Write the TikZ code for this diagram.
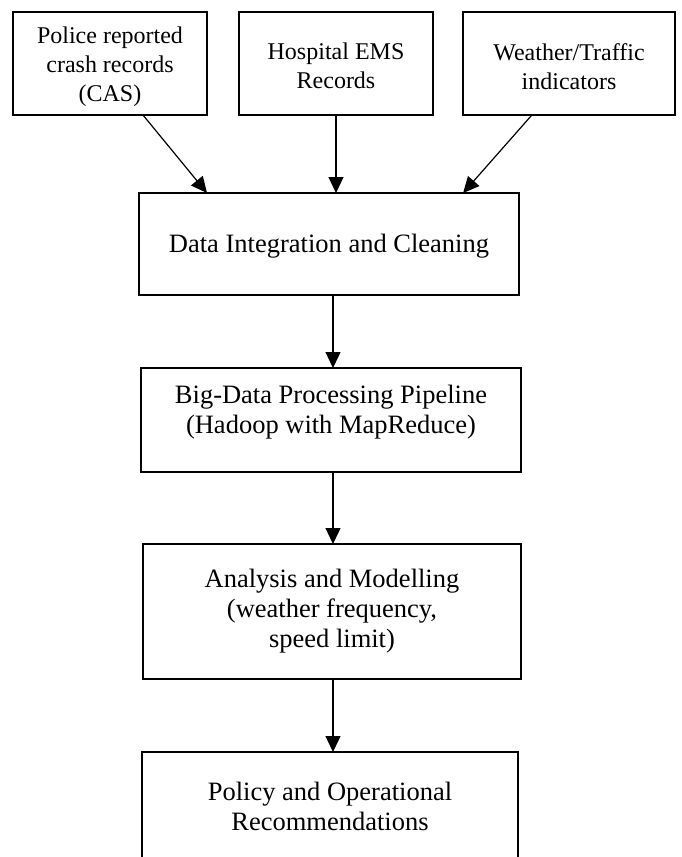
\documentclass[tikz,border=0pt]{standalone}
\usepackage{fontspec}
\setmainfont{Liberation Serif}
\usetikzlibrary{arrows.meta,calc}
\tikzset{
  box/.style={draw, line width=2.5pt, inner sep=0pt, outer sep=0pt, minimum width=#1},
  smalltxt/.style={align=center, inner sep=0pt, font=\fontsize{24}{29}\selectfont},
  bigtxt/.style={align=center, inner sep=0pt, font=\fontsize{26.5}{30}\selectfont},
  arr/.style={line width=1.2pt, -{Triangle[length=16pt,width=15pt]}}
}
\begin{document}
\begin{tikzpicture}[x=1pt,y=-1pt]
\useasboundingbox (0,0) rectangle (682,857);
\clip (0,0) rectangle (682,857);
\fill[white] (0,0) rectangle (682,857);
% top boxes
\node[box=194pt, minimum height=103pt] (p1) at (110,63.5) {};
\node[smalltxt] at (110,67) {Police reported\\crash records\\(CAS)};
\node[box=194pt, minimum height=103pt] (p2) at (336,63.5) {};
\node[smalltxt] at (336,66) {Hospital EMS\\Records};
\node[box=212pt, minimum height=103pt] (p3) at (569,63.5) {};
\node[smalltxt] at (569,66.5) {Weather/Traffic\\indicators};
% main chain
\node[box=380pt, minimum height=102pt] (data) at (329,244) {};
\node[bigtxt] at (329,246) {Data Integration and Cleaning};
\node[box=380pt, minimum height=104pt] (big) at (331,420) {};
\node[bigtxt] at (331,412) {Big-Data Processing Pipeline\\(Hadoop with MapReduce)};
\node[box=378pt, minimum height=135pt] (ana) at (332,611.5) {};
\node[bigtxt] at (332,611) {Analysis and Modelling\\(weather frequency,\\speed limit)};
\node[box=376pt, minimum height=148pt] (pol) at (330,826) {};
\node[bigtxt] at (330,806) {Policy and Operational\\Recommendations};
\coordinate (axis) at (333,0);
% connectors
\draw[arr] ($(p1.south west)!0.67!(p1.south east)$) -- ($(data.north west)!0.179!(data.north east)$);
\draw[arr] (p2.south) -- (p2.south |- data.north);
\draw[arr] ($(p3.south west)!0.325!(p3.south east)$) -- ($(data.north west)!0.853!(data.north east)$);
\draw[arr] (axis |- data.south) -- (axis |- big.north);
\draw[arr] (axis |- big.south) -- (axis |- ana.north);
\draw[arr] (axis |- ana.south) -- (axis |- pol.north);
\end{tikzpicture}
\end{document}
